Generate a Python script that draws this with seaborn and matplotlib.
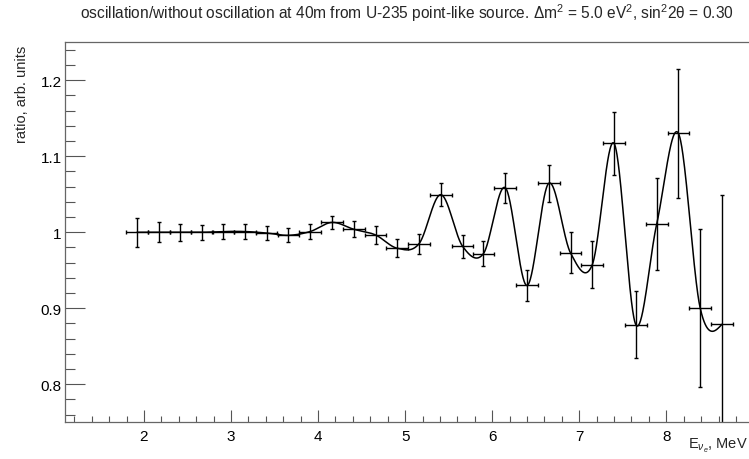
import numpy as np
import pandas as pd
import matplotlib
matplotlib.use('Agg')
import matplotlib.pyplot as plt
import seaborn as sns

energy = [1.92, 2.17, 2.42, 2.67, 2.91, 3.16, 3.41, 3.66, 3.91, 4.16,
          4.41, 4.66, 4.91, 5.16, 5.41, 5.66, 5.90, 6.15, 6.40, 6.65,
          6.90, 7.15, 7.40, 7.65, 7.89, 8.14, 8.39, 8.64]
ratio = [1.000, 1.000, 1.000, 1.000, 1.001, 1.001, 0.999, 0.996, 1.001, 1.013,
         1.004, 0.9965, 0.979, 0.985, 1.0495, 0.9816, 0.972, 1.0587, 0.930, 1.0645,
         0.9728, 0.9574, 1.117, 0.8785, 1.011, 1.130, 0.900, 0.879]
ratio_err = [0.019, 0.013, 0.0114, 0.010, 0.0099, 0.0094, 0.0092, 0.0092, 0.0098, 0.0088,
             0.0103, 0.0114, 0.0116, 0.013, 0.0147, 0.0154, 0.0164, 0.0197, 0.0204, 0.024,
             0.027, 0.031, 0.041, 0.044, 0.061, 0.0855, 0.104, 0.170]
half_bin = 0.124

title = ("oscillation/without oscillation at 40m from U-235 point-like source. "
         "Δm$^{2}$ = 5.0 eV$^{2}$, sin$^{2}$2θ = 0.30")


#smooth curve through the points (like ROOT "C" option), Catmull-Rom style hermite
def smooth(x, y, xs):
    x = np.asarray(x); y = np.asarray(y)
    n = len(x)
    m = np.zeros(n)
    m[1:-1] = (y[2:] - y[:-2]) / (x[2:] - x[:-2])
    #ends: chord slope plus a bit of curvature
    h0 = x[1] - x[0]
    m[0] = (y[1] - y[0]) / h0 - 0.25 * (y[2] - 2 * y[1] + y[0]) / h0
    h1 = x[-1] - x[-2]
    m[-1] = (y[-1] - y[-2]) / h1 + 0.25 * (y[-1] - 2 * y[-2] + y[-3]) / h1
    idx = np.clip(np.searchsorted(x, xs) - 1, 0, n - 2)
    h = x[idx + 1] - x[idx]
    t = (xs - x[idx]) / h
    h00 = 2 * t**3 - 3 * t**2 + 1
    h10 = t**3 - 2 * t**2 + t
    h01 = -2 * t**3 + 3 * t**2
    h11 = t**3 - t**2
    return h00 * y[idx] + h10 * h * m[idx] + h01 * y[idx + 1] + h11 * h * m[idx + 1]


sns.set_style("ticks")
plt.rcParams['font.family'] = ['Liberation Sans', 'DejaVu Sans']
plt.rcParams['mathtext.fontset'] = 'custom'
plt.rcParams['mathtext.rm'] = 'Liberation Sans'
plt.rcParams['mathtext.it'] = 'Liberation Sans:italic'

fig = plt.figure(figsize=(7.49, 4.60), dpi=100)
ax = fig.add_axes([0.0872, 0.0798, 1.0 - 0.0872, 0.8261])

xs = np.linspace(energy[0], energy[-1], 1500)
curve = pd.DataFrame({'E': xs, 'r': smooth(energy, ratio, xs)})
sns.lineplot(data=curve, x='E', y='r', color='black', lw=1.1, ax=ax)

ax.errorbar(energy, ratio, yerr=ratio_err, xerr=half_bin, fmt='none',
            ecolor='black', elinewidth=1.0, capsize=1.2, capthick=1.0)

ax.set_xlim(1.097, 8.95)
ax.set_ylim(0.75, 1.25)
ax.set_xticks(np.arange(2, 9, 1))
ax.set_xticks(np.arange(1.2, 9.0, 0.2), minor=True)
ax.set_yticks([0.8, 0.9, 1.0, 1.1, 1.2])
ax.set_yticklabels(['0.8', '0.9', '1', '1.1', '1.2'])
ax.set_yticks(np.arange(0.76, 1.25, 0.02), minor=True)
ax.tick_params(axis='both', which='both', direction='in', colors='#555555',
               labelcolor='black', labelsize=11, width=0.8)
ax.tick_params(axis='x', which='major', length=8.4, pad=5)
ax.tick_params(axis='x', which='minor', length=4.3)
ax.tick_params(axis='y', which='major', length=14.4, pad=2.5)
ax.tick_params(axis='y', which='minor', length=7.2)
for s in ['left', 'bottom', 'top']:
    ax.spines[s].set_color('#666666')
    ax.spines[s].set_linewidth(0.9)
ax.spines['right'].set_visible(False)
ax.set_xlabel('')
ax.set_ylabel('')

fig.text(0.543, 0.972, title, ha='center', va='center', fontsize=11.2)
fig.text(0.030, 0.90, 'ratio, arb. units', rotation=90, ha='center', va='top', fontsize=10.5)
fig.text(0.999, 0.010, r'E$_{\nu_{e}}$, MeV', ha='right', va='bottom', fontsize=10.5)

fig.savefig('out.png', dpi=100)
